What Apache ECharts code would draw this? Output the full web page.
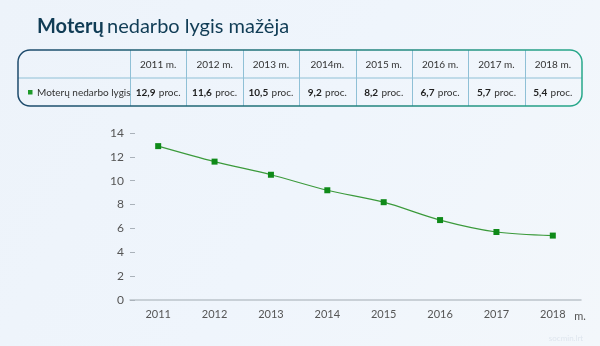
<!DOCTYPE html>
<html><head><meta charset="utf-8">
<script src="https://cdn.jsdelivr.net/npm/echarts@6/dist/echarts.min.js"></script>
<style>html,body{margin:0;padding:0;}#c{width:600px;height:346px;}</style>
</head><body><div id="c"></div>
<script>
const categories = ['2011','2012','2013','2014','2015','2016','2017','2018'];
const headerLabels = ['2011 m.','2012 m.','2013 m.','2014m.','2015 m.','2016 m.','2017 m.','2018 m.'];
const values = [12.9, 11.6, 10.5, 9.2, 8.2, 6.7, 5.7, 5.4];
const valueLabels = ['12,9','11,6','10,5','9,2','8,2','6,7','5,7','5,4'];
const seriesName = 'Moterų nedarbo lygis';
const yTicks = [0,2,4,6,8,10,12,14];
const xUnit = 'm.';

const FONT = 'Lato, "Noto Sans", sans-serif';
const chart = echarts.init(document.getElementById('c'));

const gridLeft = 130, gridRight = 19, gridTop = 133, gridBottom = 46;
const tblLeft = 18, tblRight = 582, tblTop = 50, tblMid = 78, tblBottom = 106;
const colW = (600 - gridRight - gridLeft) / categories.length;

const graphics = [];
graphics.push({
  type: 'rect', shape: {x: tblLeft, y: tblTop, width: tblRight - tblLeft, height: tblBottom - tblTop, r: 12},
  style: {fill: 'rgba(255,255,255,0.0)', lineWidth: 1.5,
    stroke: new echarts.graphic.LinearGradient(0,0,1,0,[{offset:0,color:'#1d4a6c'},{offset:1,color:'#27a88a'}])},
  z: 10
});
graphics.push({type:'line', shape:{x1:tblLeft, y1:tblMid, x2:tblRight, y2:tblMid}, style:{stroke:'#8fc0d6', lineWidth:1}, z: 9});
for (let i = 0; i < categories.length; i++) {
  const x = Math.round(gridLeft + i * colW) + 0.5;
  graphics.push({type:'line', shape:{x1:x, y1:tblTop, x2:x, y2:tblBottom}, style:{stroke:'#8fc0d6', lineWidth:1}, z: 9});
}
for (let i = 0; i < categories.length; i++) {
  const cx = gridLeft + (i + 0.5) * colW;
  graphics.push({type:'text', x: cx, y: (tblTop + tblMid) / 2 + 1,
    style:{text: headerLabels[i], font: '10px ' + FONT, fill:'#333', align:'center', verticalAlign:'middle'}, z: 11});
  graphics.push({type:'text', x: cx, y: (tblMid + tblBottom) / 2 + 1,
    style:{text: '{b|' + valueLabels[i] + '} {n|proc.}', align:'center', verticalAlign:'middle',
      rich:{b:{font:'bold 10px ' + FONT, fill:'#222'}, n:{font:'10px ' + FONT, fill:'#333'}}}, z: 11});
}
graphics.push({type:'rect', shape:{x: 28, y: (tblMid + tblBottom)/2 - 2, width: 4.5, height: 4.5}, style:{fill:'#1e9a2a'}, z: 11});
graphics.push({type:'text', x: 37, y: (tblMid + tblBottom) / 2 + 1,
  style:{text: seriesName, font: '10px ' + FONT, fill:'#333', align:'left', verticalAlign:'middle'}, z: 11});
graphics.push({type:'text', x: 37, y: 27,
  style:{text: '{b|Moterų} {n|nedarbo lygis mažėja}', verticalAlign:'middle',
    rich:{b:{font:'bold 20px ' + FONT, fill:'#103c55'}, n:{font:'20px ' + FONT, fill:'#103c55'}}}, z: 11});
graphics.push({type:'text', x: 580, y: 316, style:{text: xUnit, font:'11px ' + FONT, fill:'#555', align:'center', verticalAlign:'middle'}, z: 11});
graphics.push({type:'text', x: 566, y: 338, style:{text:'socmin.lrt', font:'8px ' + FONT, fill:'#dfe6ee', align:'center', verticalAlign:'middle'}, z: 11});

chart.setOption({
  backgroundColor: new echarts.graphic.LinearGradient(0,0,1,1,[{offset:0,color:'#edf3fa'},{offset:0.5,color:'#eff5fc'},{offset:1,color:'#f3f7fb'}]),
  animation: false,
  grid: {left: gridLeft, right: gridRight, top: gridTop, bottom: gridBottom, containLabel: false},
  xAxis: {
    type: 'category', data: categories, boundaryGap: true,
    axisLine: {lineStyle: {color: '#bcc3ca', width: 1.5}},
    axisTick: {alignWithLabel: true, length: 4, lineStyle: {color: '#bcc3ca'}},
    axisLabel: {color: '#555', fontSize: 11, fontFamily: FONT, margin: 9}
  },
  yAxis: {
    type: 'value', min: 0, max: 14, interval: 2,
    axisLine: {show: false},
    axisTick: {show: true, inside: true, length: 5, lineStyle: {color: '#aab2ba'}},
    splitLine: {show: false},
    axisLabel: {color: '#555', fontSize: 12, fontFamily: FONT, margin: 6,
      formatter: v => yTicks.includes(v) ? String(v) : ''}
  },
  series: [{
    name: seriesName, type: 'line', data: values, smooth: 0.3,
    symbol: 'rect', symbolSize: 6,
    lineStyle: {color: '#3b9a3b', width: 1.2},
    itemStyle: {color: '#0f8a19'}
  }],
  graphic: graphics
});
</script></body></html>
